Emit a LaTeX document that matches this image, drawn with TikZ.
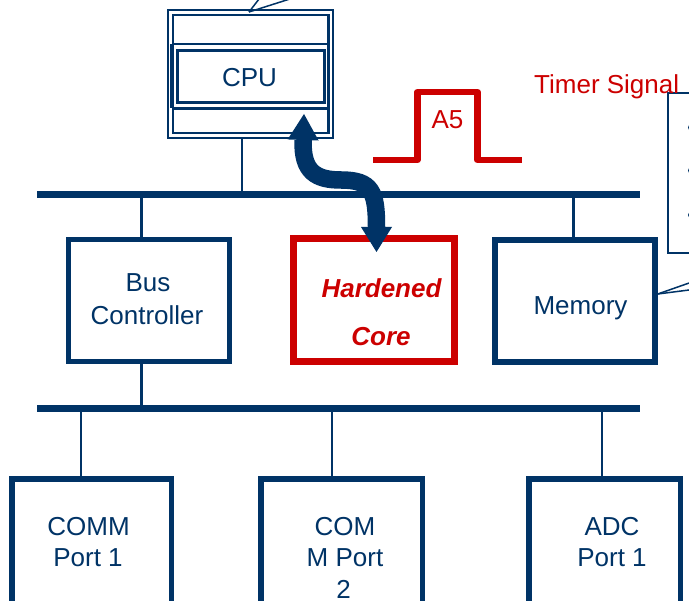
\documentclass[tikz,border=0pt]{standalone}
\usepackage{fontspec}
\setmainfont{Liberation Sans}
\usetikzlibrary{arrows.meta}
\definecolor{navy}{RGB}{0,51,102}
\definecolor{sigred}{RGB}{204,0,0}
\begin{document}
\begin{tikzpicture}[x=1pt,y=-1pt,
  txt/.style={font=\fontsize{26}{32}\selectfont, text=navy, inner sep=0pt, anchor=base},
  rtxt/.style={txt, text=sigred},
  nbox/.style={draw=navy, line width=5.5pt, inner sep=0pt},
  wire/.style={draw=navy, line width=2.5pt},
  bus/.style={draw=navy, line width=7.3pt},
  thinline/.style={draw=navy, line width=1.5pt},
  bigarrow/.style={draw=navy, line width=17.5pt,
    {Triangle[width=31pt,length=26pt,line width=0pt]}-{Triangle[width=31pt,length=25pt,line width=0pt]}},
]
\useasboundingbox (0,0) rectangle (689,601);
\clip (0,0) rectangle (689,601);

% buses
\coordinate (tbL) at (37,194.3);
\coordinate (tbR) at (640,194.3);
\coordinate (bbL) at (37,408.7);
\coordinate (bbR) at (640,408.7);
\draw[bus] (tbL) -- (tbR);
\draw[bus] (bbL) -- (bbR);

% CPU assembly
\node[draw=navy, line width=1.5pt, minimum width=165pt, minimum height=128pt, inner sep=0pt] (cpuouter) at (250.5,74) {};
\node[draw=navy, line width=2.6pt, minimum width=155.5pt, minimum height=118pt, inner sep=0pt] (cpuinner) at (250.75,74) {};
\draw[navy, line width=2.6pt] (173,44) -- (328.5,44);
\draw[navy, line width=2.6pt] (173,108.5) -- (328.5,108.5);
\draw[navy, line width=4.5pt] (172,44) -- (172,108.5);
\node[draw=navy, line width=3.2pt, minimum width=147pt, minimum height=52pt, inner sep=0pt] (cpu) at (251,76.5) {};
\node[txt] (cputxt) at (249.5,86.7) {CPU};
\coordinate (cpuc) at ([xshift=-9pt]cpuouter.south);
\draw[navy, line width=2pt] (cpuc) -- (cpuc |- tbL);

% callout lines at top
\coordinate (cpucall) at (249,12);
\draw[thinline] (cpucall) -- (260.6,-3);
\draw[thinline] (cpucall) -- (296.1,-3);

% Bus controller
\node[nbox, line width=5pt, minimum width=161pt, minimum height=122pt] (bc) at (149,300.5) {};
\node[txt] (bct1) at (148,292) {Bus};
\node[txt] (bct2) at (147,324.5) {Controller};
\coordinate (bcn) at ([xshift=-8pt]bc.north);
\coordinate (bcs) at ([xshift=-8pt]bc.south);
\draw[wire, line width=3pt] (bcn |- tbL) -- (bcn);
\draw[wire, line width=3pt] (bcs) -- (bcs |- bbL);

% Hardened core
\node[draw=sigred, line width=7pt, inner sep=0pt, minimum width=161pt, minimum height=123pt] (hc) at (374,300) {};
\node[rtxt, font=\fontsize{26}{32}\selectfont\bfseries\itshape] (hct1) at (381.5,297.7) {Hardened};
\node[rtxt, font=\fontsize{26}{32}\selectfont\bfseries\itshape] (hct2) at (381,345.7) {Core};

% Memory
\node[nbox, minimum width=160pt, minimum height=122pt] (mem) at (575,301) {};
\node[txt] (memt) at (580.5,315) {Memory};
\coordinate (memn) at ([xshift=-2pt]mem.north);
\draw[wire, line width=3pt] (memn |- tbL) -- (memn);

% Memory callout lines
\coordinate (memcall) at ([yshift=7pt]mem.east);
\draw[thinline] (memcall) -- (700,279.2);
\draw[thinline] (memcall) -- (700,288.6);

% right callout box with bullets
\draw[thinline] (668,93) rectangle (720,253);
\fill[navy] (691,127.5) circle (3);
\fill[navy] (691,170.5) circle (3);
\fill[navy] (691,215) circle (3);

% Timer signal
\draw[sigred, line width=6.5pt, line join=round] (373,160) -- (417.5,160) -- (417.5,92) -- (477.5,92) -- (477.5,160) -- (522,160);
\node[rtxt] (a5) at (447.5,128.3) {A5};
\node[rtxt, anchor=base west] (timer) at (534,94) {Timer Signal};

% bottom ports
\node[nbox, minimum width=159.5pt, minimum height=171pt] (p1) at (91.5,564.3) {};
\node[nbox, minimum width=161.5pt, minimum height=171pt] (p2) at (341.5,564.3) {};
\node[nbox, minimum width=151.5pt, minimum height=171pt] (p3) at (604.5,564.3) {};
\coordinate (p1n) at ([xshift=-10.5pt]p1.north);
\coordinate (p2n) at ([xshift=-9.5pt]p2.north);
\coordinate (p3n) at ([xshift=-2.5pt]p3.north);
\draw[wire] (p1n |- bbL) -- (p1n);
\draw[wire] (p2n |- bbL) -- (p2n);
\draw[wire] (p3n |- bbL) -- (p3n);

\node[txt] (p1a) at (88.5,535.5) {COMM};
\node[txt] (p1b) at (88,567) {Port 1};
\node[txt] (p2a) at (345,535.5) {COM};
\node[txt] (p2b) at (345,567) {M Port};
\node[txt] (p2c) at (343.5,598.5) {2};
\node[txt] (p3a) at (612,535.5) {ADC};
\node[txt] (p3b) at (612,567) {Port 1};

% curved double arrow between CPU and hardened core
\coordinate (at1) at (304,114);
\coordinate (at2) at (376.5,252);
\draw[bigarrow] (at1) .. controls (302,172) and (316,180) .. (341,180) .. controls (372,180) and (376.5,192) .. (at2);
\end{tikzpicture}
\end{document}
